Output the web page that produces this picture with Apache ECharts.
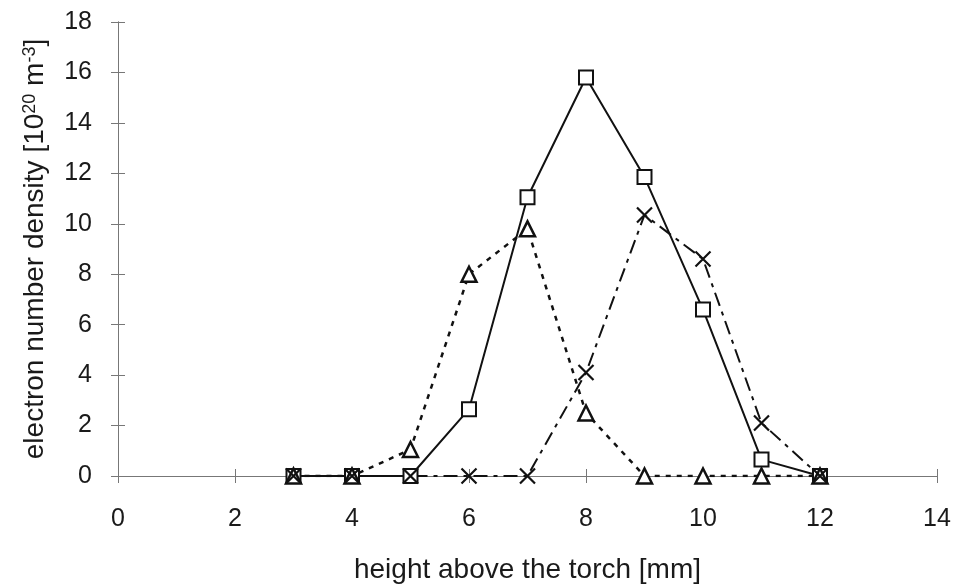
<!DOCTYPE html>
<html><head><meta charset="utf-8">
<script src="https://cdn.jsdelivr.net/npm/echarts@6/dist/echarts.min.js"></script>
<style>html,body{margin:0;padding:0;background:#fff}#c{width:955px;height:585px}</style>
</head><body><div id="c"></div>
<script>
const heights = [3, 4, 5, 6, 7, 8, 9, 10, 11, 12];
const squareSeries = [0, 0, 0, 2.65, 11.05, 15.8, 11.85, 6.6, 0.65, 0];
const triangleSeries = [0, 0, 1.05, 8.0, 9.8, 2.5, 0, 0, 0, 0];
const crossSeries = [0, 0, 0, 0, 0, 4.1, 10.35, 8.6, 2.1, 0];
const xTicks = [0, 2, 4, 6, 8, 10, 12, 14];
const yTicks = [0, 2, 4, 6, 8, 10, 12, 14, 16, 18];

const pair = arr => heights.map((h, i) => [h, arr[i]]);
const font = 'Liberation Sans, Arial, sans-serif';
const axisCol = '#777';
const txt = '#1a1a1a';

const chart = echarts.init(document.getElementById('c'));
const baseX = {
  type: 'value', min: xTicks[0], max: xTicks[xTicks.length - 1], interval: 2,
  axisLine: { onZero: false, lineStyle: { color: axisCol, width: 1 } },
  splitLine: { show: false }
};
const baseY = {
  type: 'value', min: yTicks[0], max: yTicks[yTicks.length - 1], interval: 2,
  axisLine: { show: true, onZero: false, lineStyle: { color: axisCol, width: 1 } },
  splitLine: { show: false }
};
chart.setOption({
  animation: false,
  backgroundColor: '#fff',
  grid: { left: 118, right: 18, top: 22, bottom: 109, containLabel: false, outerBoundsMode: 'none' },
  xAxis: [
    Object.assign({}, baseX, {
      position: 'bottom',
      axisTick: { show: true, inside: false, length: 7, lineStyle: { color: axisCol } },
      axisLabel: { margin: 31, fontSize: 25, color: txt, fontFamily: font },
      name: 'height above the torch [mm]', nameLocation: 'middle', nameGap: 80,
      nameTextStyle: { fontSize: 28, color: txt, fontFamily: font }
    }),
    Object.assign({}, baseX, {
      position: 'bottom',
      axisTick: { show: true, inside: true, length: 7, lineStyle: { color: axisCol } },
      axisLabel: { show: false }
    })
  ],
  yAxis: [
    Object.assign({}, baseY, {
      position: 'left',
      axisTick: { show: true, inside: false, length: 7, lineStyle: { color: axisCol } },
      axisLabel: { margin: 26, fontSize: 25, color: txt, fontFamily: font },
      name: '{n|electron number density [10}{s|20}{n| m}{s|-3}{n|]}',
      nameLocation: 'middle', nameGap: 69, nameRotate: 90,
      nameTextStyle: {
        color: txt, fontFamily: font, fontSize: 28,
        rich: {
          n: { fontSize: 28, color: txt, fontFamily: font },
          s: { fontSize: 18, color: txt, fontFamily: font, verticalAlign: 'top', padding: [0, 0, 10, 0] }
        }
      }
    }),
    Object.assign({}, baseY, {
      position: 'left',
      axisTick: { show: true, inside: true, length: 7, lineStyle: { color: axisCol } },
      axisLabel: { show: false }
    })
  ],
  series: [
    {
      name: 'squares', type: 'line', data: pair(squareSeries),
      symbol: 'rect', symbolSize: 14,
      lineStyle: { color: '#111', width: 2, type: 'solid' },
      itemStyle: { color: '#fff', borderColor: '#111', borderWidth: 2 }
    },
    {
      name: 'triangles', type: 'line', data: pair(triangleSeries),
      symbol: 'triangle', symbolSize: 15,
      lineStyle: { color: '#111', width: 2.5, type: [5, 6] },
      itemStyle: { color: '#fff', borderColor: '#111', borderWidth: 2.5 }
    },
    {
      name: 'crosses', type: 'line', data: pair(crossSeries),
      symbol: 'path://M0,0L10,10M10,0L0,10', symbolSize: 15,
      lineStyle: { color: '#111', width: 2, type: [14, 6, 4, 6] },
      itemStyle: { color: 'none', borderColor: '#111', borderWidth: 2.2 }
    }
  ]
});
</script></body></html>
